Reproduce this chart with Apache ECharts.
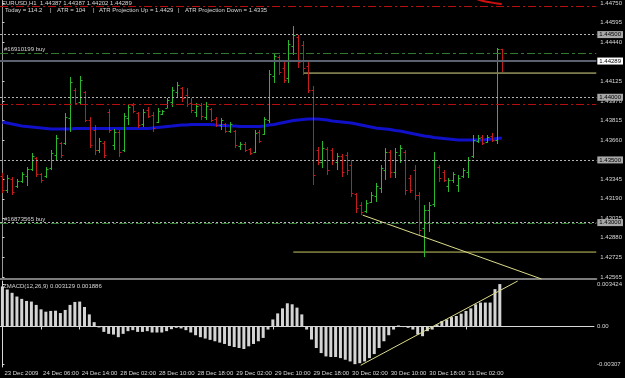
<!DOCTYPE html>
<html>
<head>
<meta charset="utf-8">
<script src="https://cdn.jsdelivr.net/npm/echarts@6/dist/echarts.min.js"></script>
<style>
  html, body { margin: 0; padding: 0; background: #000; }
  #main { width: 625px; height: 378px; }
</style>
</head>
<body>
<div id="main"></div>
<script>
// EURUSD H1, 104 bars from 23 Dec 22:00 to 31 Dec 09:00
const tickLabels = ['23 Dec 2009', '24 Dec 06:00', '24 Dec 14:00', '28 Dec 02:00', '28 Dec 10:00',
  '28 Dec 18:00', '29 Dec 02:00', '29 Dec 10:00', '29 Dec 18:00', '30 Dec 02:00',
  '30 Dec 10:00', '30 Dec 18:00', '31 Dec 02:00'];
const tickStep = 8;

const open = [
  1.43372, 1.43260, 1.43348, 1.43292, 1.43332, 1.43372, 1.43427, 1.43515, 1.43388, 1.43372,
  1.43435, 1.43539, 1.43635, 1.43635, 1.43834, 1.44058, 1.43962, 1.44042, 1.43818, 1.43739,
  1.43579, 1.43635, 1.43882, 1.43619, 1.43723, 1.43579, 1.43834, 1.43938, 1.43874, 1.43786,
  1.43898, 1.43858, 1.43802, 1.43866, 1.43914, 1.43962, 1.44042, 1.44074, 1.44018, 1.43954,
  1.43882, 1.43938, 1.43842, 1.43906, 1.43826, 1.43778, 1.43786, 1.43731, 1.43731, 1.43611,
  1.43627, 1.43587, 1.43563, 1.43723, 1.43707, 1.43818, 1.44170, 1.44321, 1.44233, 1.44154,
  1.44409, 1.44481, 1.44417, 1.44249, 1.44058, 1.43579, 1.43483, 1.43587, 1.43579, 1.43483,
  1.43531, 1.43539, 1.43459, 1.43228, 1.43140, 1.43092, 1.43164, 1.43212, 1.43276, 1.43419,
  1.43563, 1.43403, 1.43539, 1.43563, 1.43356, 1.43419, 1.43220, 1.42957, 1.43100, 1.43148,
  1.43443, 1.43403, 1.43292, 1.43340, 1.43300, 1.43372, 1.43403, 1.43531, 1.43651, 1.43683,
  1.43643, 1.43691, 1.43659, 1.44387];
const high = [
  1.43396, 1.43380, 1.43364, 1.43348, 1.43403, 1.43443, 1.43555, 1.43523, 1.43396, 1.43443,
  1.43579, 1.43699, 1.43643, 1.43874, 1.44162, 1.44074, 1.44170, 1.44050, 1.43842, 1.43778,
  1.43675, 1.43651, 1.43906, 1.43747, 1.43739, 1.43874, 1.43946, 1.43954, 1.43882, 1.43906,
  1.43922, 1.43882, 1.43914, 1.43898, 1.43994, 1.44082, 1.44122, 1.44082, 1.44074, 1.43994,
  1.43954, 1.43954, 1.43962, 1.43914, 1.43842, 1.43834, 1.43794, 1.43802, 1.43739, 1.43643,
  1.43643, 1.43595, 1.43739, 1.43739, 1.43842, 1.44217, 1.44353, 1.44337, 1.44297, 1.44457,
  1.44568, 1.44497, 1.44449, 1.44281, 1.44090, 1.43603, 1.43651, 1.43603, 1.43595, 1.43555,
  1.43547, 1.43563, 1.43499, 1.43236, 1.43164, 1.43180, 1.43244, 1.43316, 1.43459, 1.43595,
  1.43579, 1.43595, 1.43619, 1.43579, 1.43380, 1.43459, 1.43244, 1.43140, 1.43164, 1.43563,
  1.43459, 1.43419, 1.43356, 1.43403, 1.43380, 1.43435, 1.43523, 1.43699, 1.43699, 1.43699,
  1.43699, 1.43715, 1.44393, 1.44387];
const low = [
  1.43236, 1.43236, 1.43220, 1.43276, 1.43316, 1.43292, 1.43411, 1.43364, 1.43316, 1.43356,
  1.43419, 1.43499, 1.43515, 1.43619, 1.43723, 1.43938, 1.43938, 1.43802, 1.43595, 1.43539,
  1.43555, 1.43515, 1.43715, 1.43579, 1.43523, 1.43563, 1.43778, 1.43874, 1.43755, 1.43763,
  1.43834, 1.43723, 1.43794, 1.43858, 1.43914, 1.43922, 1.44002, 1.43962, 1.43922, 1.43874,
  1.43842, 1.43818, 1.43818, 1.43802, 1.43763, 1.43739, 1.43715, 1.43715, 1.43595, 1.43579,
  1.43563, 1.43539, 1.43555, 1.43635, 1.43699, 1.43794, 1.44114, 1.44178, 1.44114, 1.44114,
  1.44337, 1.44233, 1.44178, 1.44034, 1.43300, 1.43459, 1.43435, 1.43380, 1.43459, 1.43419,
  1.43364, 1.43380, 1.43204, 1.43076, 1.43060, 1.43076, 1.43156, 1.43164, 1.43236, 1.43340,
  1.43356, 1.43356, 1.43476, 1.43220, 1.43236, 1.43180, 1.42901, 1.42725, 1.42925, 1.43124,
  1.43324, 1.43324, 1.43244, 1.43316, 1.43244, 1.43356, 1.43356, 1.43515, 1.43635, 1.43619,
  1.43635, 1.43643, 1.43627, 1.44202];
const close = [
  1.43260, 1.43356, 1.43244, 1.43332, 1.43388, 1.43427, 1.43531, 1.43388, 1.43340, 1.43427,
  1.43555, 1.43675, 1.43539, 1.43842, 1.44122, 1.43954, 1.44138, 1.43818, 1.43619, 1.43579,
  1.43651, 1.43539, 1.43739, 1.43723, 1.43563, 1.43850, 1.43922, 1.43890, 1.43778, 1.43882,
  1.43850, 1.43755, 1.43890, 1.43890, 1.43978, 1.44058, 1.44098, 1.43994, 1.43946, 1.43898,
  1.43930, 1.43850, 1.43930, 1.43818, 1.43778, 1.43818, 1.43731, 1.43786, 1.43619, 1.43627,
  1.43579, 1.43555, 1.43715, 1.43651, 1.43826, 1.44186, 1.44329, 1.44201, 1.44138, 1.44425,
  1.44497, 1.44281, 1.44233, 1.44058, 1.43380, 1.43483, 1.43595, 1.43419, 1.43499, 1.43531,
  1.43403, 1.43419, 1.43236, 1.43116, 1.43084, 1.43156, 1.43220, 1.43292, 1.43435, 1.43563,
  1.43403, 1.43563, 1.43595, 1.43260, 1.43260, 1.43220, 1.42941, 1.43100, 1.43140, 1.43499,
  1.43356, 1.43340, 1.43340, 1.43388, 1.43356, 1.43419, 1.43499, 1.43659, 1.43675, 1.43635,
  1.43683, 1.43659, 1.44385, 1.44289];

// blue moving average
const maLine = [
  1.43802, 1.43794, 1.43786, 1.43778, 1.43770, 1.43767, 1.43763, 1.43759, 1.43755, 1.43751,
  1.43747, 1.43747, 1.43747, 1.43747, 1.43747, 1.43751, 1.43751, 1.43751, 1.43751, 1.43751,
  1.43751, 1.43751, 1.43751, 1.43751, 1.43751, 1.43751, 1.43751, 1.43751, 1.43751, 1.43751,
  1.43751, 1.43755, 1.43759, 1.43763, 1.43767, 1.43770, 1.43774, 1.43778, 1.43778, 1.43782,
  1.43782, 1.43782, 1.43782, 1.43782, 1.43778, 1.43774, 1.43774, 1.43770, 1.43770, 1.43767,
  1.43767, 1.43767, 1.43767, 1.43767, 1.43770, 1.43778, 1.43782, 1.43790, 1.43798, 1.43806,
  1.43814, 1.43818, 1.43822, 1.43826, 1.43826, 1.43826, 1.43822, 1.43818, 1.43810, 1.43806,
  1.43802, 1.43798, 1.43794, 1.43786, 1.43778, 1.43770, 1.43763, 1.43755, 1.43751, 1.43747,
  1.43743, 1.43735, 1.43731, 1.43723, 1.43715, 1.43707, 1.43699, 1.43691, 1.43687, 1.43679,
  1.43675, 1.43671, 1.43667, 1.43663, 1.43659, 1.43659, 1.43659, 1.43659, 1.43659, 1.43659,
  1.43663, 1.43667, 1.43671, 1.43675];

// red line entering at the top right (bars 97..103), mostly off-scale
const redTopIdx = [97, 98, 99, 100, 101, 102, 103];
const redTop = [1.44800, 1.44782, 1.44770, 1.44762, 1.44755, 1.44749, 1.44745];

// ZMACD(12,26,9) histogram
const macdHist = [
  0.00325, 0.00300, 0.00273, 0.00243, 0.00224, 0.00207, 0.00202, 0.00175, 0.00139, 0.00120,
  0.00126, 0.00128, 0.00109, 0.00134, 0.00175, 0.00199, 0.00202, 0.00158, 0.00098, 0.00035,
  -0.00008, -0.00044, -0.00060, -0.00066, -0.00087, -0.00060, -0.00038, -0.00030, -0.00044, -0.00044,
  -0.00038, -0.00049, -0.00049, -0.00049, -0.00038, -0.00022, -0.00011, -0.00016, -0.00030, -0.00049,
  -0.00071, -0.00087, -0.00098, -0.00109, -0.00120, -0.00131, -0.00142, -0.00158, -0.00167, -0.00175,
  -0.00183, -0.00161, -0.00142, -0.00120, -0.00093, -0.00025, 0.00057, 0.00106, 0.00147, 0.00188,
  0.00180, 0.00153, 0.00098, -0.00025, -0.00106, -0.00175, -0.00216, -0.00243, -0.00248, -0.00248,
  -0.00257, -0.00270, -0.00284, -0.00306, -0.00298, -0.00284, -0.00257, -0.00224, -0.00175, -0.00120,
  -0.00071, -0.00025, 0.00008, -0.00005, -0.00011, -0.00025, -0.00066, -0.00079, -0.00038, -0.00025,
  0.00016, 0.00044, 0.00057, 0.00076, 0.00085, 0.00104, 0.00126, 0.00147, 0.00180, 0.00194,
  0.00194, 0.00194, 0.00303, 0.00344];

// axis tick labels
const priceTicks = [1.4475, 1.44595, 1.4444, 1.44125, 1.4397, 1.43815, 1.4366,
  1.43345, 1.4319, 1.43035, 1.4288, 1.42725, 1.42565];
const macdTicks = [-0.00307, 0, 0.003424];
const macdTickText = ['-0.00307', '0.00', '0.003424'];

// horizontal objects on the price chart
const lvAtrUp = 1.44728, lvAtrDown = 1.43946;
const lvRound = [1.445, 1.44, 1.435, 1.43];
const lvOrder1 = 1.44351, lvOrder2 = 1.42997;
const lvBid = 1.44289;
// trend lines: [bar index, price]
const yellowTop = [[62, 1.44193], [122.5, 1.44193]];
const yellowLow = [[60, 1.42765], [122.5, 1.42765]];
const yellowTrend = [[74.3, 1.4306], [111.2, 1.4255]];
const macdTrend = [[74.2, -0.00315], [106.7, 0.00369]];

const slotCount = 123; // bars + chart shift on the right
const categories = Array.from({ length: slotCount }, (_, i) => String(i));

const FONT = 'Liberation Sans';
const textCol = '#d8d8d8';
const upColor = '#2cb82c';
const downColor = '#c41c1c';
const yellow = '#dcdc8c';

const ohlc = open.map((o, i) => [i, o, high[i], low[i], close[i]]);
const showTick = (idx) => idx % tickStep === 0 && idx / tickStep < tickLabels.length;

const boxLabel = (txt, bg) => ({
  show: true, position: 'end', distance: 1, formatter: txt,
  color: '#000', backgroundColor: bg, padding: [1, 2, 0, 2],
  fontFamily: FONT, fontSize: 6
});
const orderLabel = (txt) => ({
  show: true, position: 'insideStartTop', distance: 1, formatter: txt,
  color: textCol, fontFamily: FONT, fontSize: 6, padding: [0, 0, 0, 3]
});
const redDashDot = { color: '#b41010', width: 1, type: [8, 3, 2, 3] };
const greenDashDot = { color: '#2f7a2f', width: 1, type: [8, 3, 3, 3] };
const whiteDot = { color: '#b4b4b4', width: 1, type: [2, 2] };

const head = (text, left, top) => ({
  text, left, top, padding: 0,
  textStyle: { color: textCol, fontFamily: FONT, fontSize: 6, fontWeight: 'normal', lineHeight: 7 }
});

const chart = echarts.init(document.getElementById('main'));
chart.setOption({
  animation: false,
  backgroundColor: '#000',
  title: [
    head('EURUSD,H1  1.44387 1.44387 1.44202 1.44289', 2, 0),
    head('Today = 114.2', 5, 7),
    head('|', 50, 7),
    head('ATR = 104', 57, 7),
    head('|', 93, 7),
    head('ATR Projection Up = 1.4429', 99, 7),
    head('|', 178, 7),
    head('ATR Projection Down = 1.4335', 185, 7),
    head('ZMACD(12,26,9) 0.003129 0.001886', 3, 283)
  ],
  grid: [
    { left: 0, right: 26, top: 0, height: 279 },
    { left: 0, right: 26, top: 281, height: 86 }
  ],
  xAxis: [
    { type: 'category', gridIndex: 0, data: categories,
      axisLine: { lineStyle: { color: '#7c7c7c', width: 2 } },
      axisTick: { show: false }, axisLabel: { show: false } },
    { type: 'category', gridIndex: 1, data: categories,
      axisLine: { lineStyle: { color: '#d8d8d8', width: 1 } },
      axisTick: { show: true, interval: showTick, alignWithLabel: true, length: 3,
        lineStyle: { color: '#d8d8d8' } },
      axisLabel: { interval: showTick, align: 'left', margin: 3, padding: [0, 0, 0, 2],
        formatter: (v, idx) => tickLabels[idx / tickStep],
        color: textCol, fontFamily: FONT, fontSize: 6 } },
    { type: 'value', gridIndex: 0, min: -0.5, max: slotCount - 0.5, show: false },
    { type: 'value', gridIndex: 1, min: -0.5, max: slotCount - 0.5, show: false }
  ],
  yAxis: [
    { type: 'value', gridIndex: 0, position: 'right', min: 1.4255, max: 1.44776,
      splitLine: { show: false },
      axisLine: { show: true, lineStyle: { color: '#d8d8d8' } },
      axisTick: { show: true, length: 2, customValues: priceTicks, lineStyle: { color: '#d8d8d8' } },
      axisLabel: { customValues: priceTicks, margin: 4, formatter: (v) => v.toFixed(5),
        color: textCol, fontFamily: FONT, fontSize: 6 } },
    { type: 'value', gridIndex: 0, position: 'left', offset: -2, min: 1.4255, max: 1.44776,
      splitLine: { show: false }, axisTick: { show: false }, axisLabel: { show: false },
      axisLine: { show: true, lineStyle: { color: '#9a9a9a' } } },
    { type: 'value', gridIndex: 1, position: 'right', min: -0.00329, max: 0.00369,
      splitLine: { show: false },
      axisLine: { show: true, lineStyle: { color: '#d8d8d8' } },
      axisTick: { show: true, length: 2, customValues: macdTicks, lineStyle: { color: '#d8d8d8' } },
      axisLabel: { customValues: macdTicks, margin: 3,
        formatter: (v) => macdTickText[macdTicks.indexOf(v)] || '',
        color: textCol, fontFamily: FONT, fontSize: 6 } }
  ],
  series: [
    {
      type: 'line', name: 'MA', xAxisIndex: 0, yAxisIndex: 0, data: maLine,
      symbol: 'none', lineStyle: { color: '#1010c8', width: 3 }, z: 1,
      markLine: {
        silent: true, symbol: ['none', 'none'], precision: 5, label: { show: false },
        data: [
          { yAxis: lvAtrUp, lineStyle: redDashDot },
          { yAxis: lvRound[0], lineStyle: whiteDot, label: boxLabel('1.44500', '#a8a8a8') },
          { yAxis: lvOrder1, lineStyle: greenDashDot, label: orderLabel('#16910199 buy') },
          { yAxis: lvBid, lineStyle: { color: '#5a6270', width: 2, type: 'solid' },
            label: boxLabel('1.44289', '#ffffff') },
          { yAxis: lvRound[1], lineStyle: whiteDot, label: boxLabel('1.44000', '#a8a8a8') },
          { yAxis: lvAtrDown, lineStyle: redDashDot },
          { yAxis: lvRound[2], lineStyle: whiteDot, label: boxLabel('1.43500', '#a8a8a8') },
          { yAxis: lvRound[3], lineStyle: whiteDot, label: boxLabel('1.43000', '#a8a8a8') },
          { yAxis: lvOrder2, lineStyle: greenDashDot, label: orderLabel('#16873565 buy') }
        ]
      }
    },
    {
      type: 'custom', name: 'EURUSD', xAxisIndex: 0, yAxisIndex: 0, data: ohlc, z: 3,
      encode: { x: 0, y: [1, 2, 3, 4] },
      renderItem: function (params, api) {
        const i = api.value(0);
        const o = api.coord([i, api.value(1)]);
        const h = api.coord([i, api.value(2)]);
        const l = api.coord([i, api.value(3)]);
        const c = api.coord([i, api.value(4)]);
        const x = Math.round(h[0]) + 0.5;
        const col = api.value(4) >= api.value(1) ? upColor : downColor;
        const st = { stroke: col, lineWidth: 1 };
        return {
          type: 'group',
          children: [
            { type: 'line', shape: { x1: x, y1: h[1], x2: x, y2: l[1] }, style: st },
            { type: 'line', shape: { x1: x - 2, y1: Math.round(o[1]) + 0.5, x2: x, y2: Math.round(o[1]) + 0.5 }, style: st },
            { type: 'line', shape: { x1: x, y1: Math.round(c[1]) + 0.5, x2: x + 2, y2: Math.round(c[1]) + 0.5 }, style: st }
          ]
        };
      }
    },
    { type: 'line', xAxisIndex: 2, yAxisIndex: 0, data: redTopIdx.map((x, k) => [x, redTop[k]]),
      symbol: 'none', smooth: true, lineStyle: { color: '#d01010', width: 2 }, z: 2 },
    { type: 'line', xAxisIndex: 2, yAxisIndex: 0, data: yellowTop, symbol: 'none',
      lineStyle: { color: yellow, width: 1 }, z: 2 },
    { type: 'line', xAxisIndex: 2, yAxisIndex: 0, data: yellowLow, symbol: 'none',
      lineStyle: { color: '#c8c864', width: 1 }, z: 2 },
    { type: 'line', xAxisIndex: 2, yAxisIndex: 0, data: yellowTrend, symbol: 'none',
      lineStyle: { color: yellow, width: 1 }, z: 4 },
    { type: 'bar', name: 'ZMACD', xAxisIndex: 1, yAxisIndex: 2, data: macdHist,
      barWidth: 3, itemStyle: { color: '#d4d4d4' } },
    { type: 'line', xAxisIndex: 3, yAxisIndex: 2, data: macdTrend, symbol: 'none', clip: false,
      lineStyle: { color: yellow, width: 1 }, z: 4 }
  ]
});
</script>
</body>
</html>
